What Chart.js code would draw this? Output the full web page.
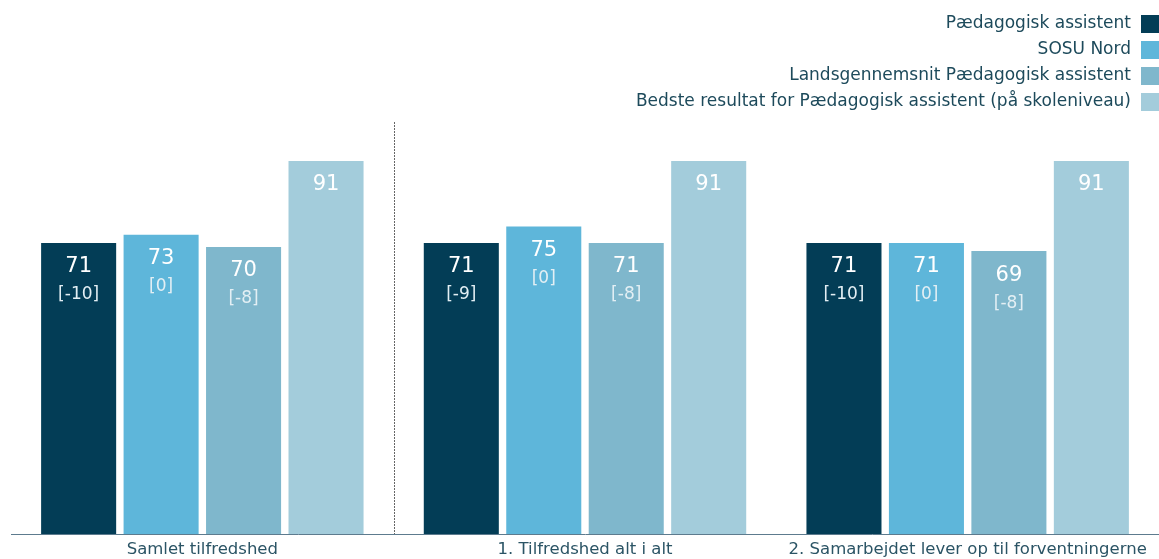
<!DOCTYPE html>
<html>
<head>
<meta charset="utf-8">
<script src="https://cdn.jsdelivr.net/npm/chart.js@4"></script>
<style>
  html, body { margin: 0; padding: 0; background: #fff; }
  #wrap { width: 1159px; height: 559px; position: relative; }
</style>
</head>
<body>
<div id="wrap"><canvas id="chart"></canvas></div>
<script>
// data
const categories = ["Samlet tilfredshed", "1. Tilfredshed alt i alt", "2. Samarbejdet lever op til forventningerne"];
const series_names = [
  "Pædagogisk assistent",
  "SOSU Nord",
  "Landsgennemsnit Pædagogisk assistent",
  "Bedste resultat for Pædagogisk assistent (på skoleniveau)"
];
const values_paed = [71, 71, 71];
const values_sosu = [73, 75, 71];
const values_lands = [70, 71, 69];
const values_best = [91, 91, 91];
const diff_paed = ["[-10]", "[-9]", "[-10]"];
const diff_sosu = ["[0]", "[0]", "[0]"];
const diff_lands = ["[-8]", "[-8]", "[-8]"];
const diff_best = [null, null, null];

const colors = ["#033d56", "#5eb6da", "#7fb7cc", "#a3ccdb"];
const FONT = "DejaVu Sans";
const textColor = "#1d4a5b";

// legend drawn on the right, box on the right side of the text
const rightLegend = {
  id: "rightLegend",
  afterDraw(chart) {
    const ctx = chart.ctx;
    ctx.save();
    ctx.font = "17px '" + FONT + "'";
    ctx.textAlign = "right";
    ctx.textBaseline = "middle";
    chart.data.datasets.forEach((ds, i) => {
      let y = 24 + i * 26;
      ctx.fillStyle = ds.backgroundColor;
      ctx.fillRect(1141, y - 9, 18, 18);
      ctx.fillStyle = textColor;
      ctx.fillText(ds.label, 1131, y);
    });
    ctx.restore();
  }
};

// dotted divider after the first group
const divider = {
  id: "divider",
  beforeDatasetsDraw(chart) {
    const ctx = chart.ctx;
    const x = Math.round(chart.scales.x.getPixelForValue(0.5)) + 0.5;
    ctx.save();
    ctx.strokeStyle = "#666";
    ctx.lineWidth = 1;
    ctx.setLineDash([2, 1]);
    ctx.beginPath();
    ctx.moveTo(x, 122);
    ctx.lineTo(x, chart.chartArea.bottom);
    ctx.stroke();
    ctx.restore();
  }
};

// value + difference labels inside the bars
const barLabels = {
  id: "barLabels",
  afterDatasetsDraw(chart) {
    const ctx = chart.ctx;
    ctx.save();
    ctx.textAlign = "center";
    ctx.textBaseline = "middle";
    chart.data.datasets.forEach((ds, i) => {
      const meta = chart.getDatasetMeta(i);
      meta.data.forEach((bar, j) => {
        ctx.font = "21px '" + FONT + "'";
        ctx.fillStyle = "#ffffff";
        ctx.fillText(ds.data[j], bar.x, bar.y + 24);
        if (ds.diffs[j] != null) {
          ctx.font = "17px '" + FONT + "'";
          ctx.fillStyle = "#e3eff4";
          ctx.fillText(ds.diffs[j], bar.x, bar.y + 52);
        }
      });
    });
    ctx.restore();
  }
};

const all_values = [values_paed, values_sosu, values_lands, values_best];
const all_diffs = [diff_paed, diff_sosu, diff_lands, diff_best];

const chart = new Chart(document.querySelector("#chart"), {
  type: "bar",
  data: {
    labels: categories,
    datasets: series_names.map((name, i) => ({
      label: name,
      data: all_values[i],
      diffs: all_diffs[i],
      backgroundColor: colors[i],
      categoryPercentage: 0.862,
      barPercentage: 0.91
    }))
  },
  options: {
    responsive: true,
    maintainAspectRatio: false,
    animation: false,
    layout: { padding: { top: 124, left: 11, right: 0, bottom: 0 } },
    plugins: {
      legend: { display: false },
      tooltip: { enabled: false }
    },
    scales: {
      x: {
        grid: { display: false, drawTicks: false },
        border: { display: true, color: "#5d7b8e", width: 1 },
        ticks: { color: "#2b5465", font: { family: FONT, size: 16.5 }, padding: 6, maxRotation: 0 },
        afterFit(scale) { scale.height = 25; }
      },
      y: {
        display: false,
        min: 0,
        max: 100
      }
    }
  },
  plugins: [rightLegend, divider, barLabels]
});
</script>
</body>
</html>
